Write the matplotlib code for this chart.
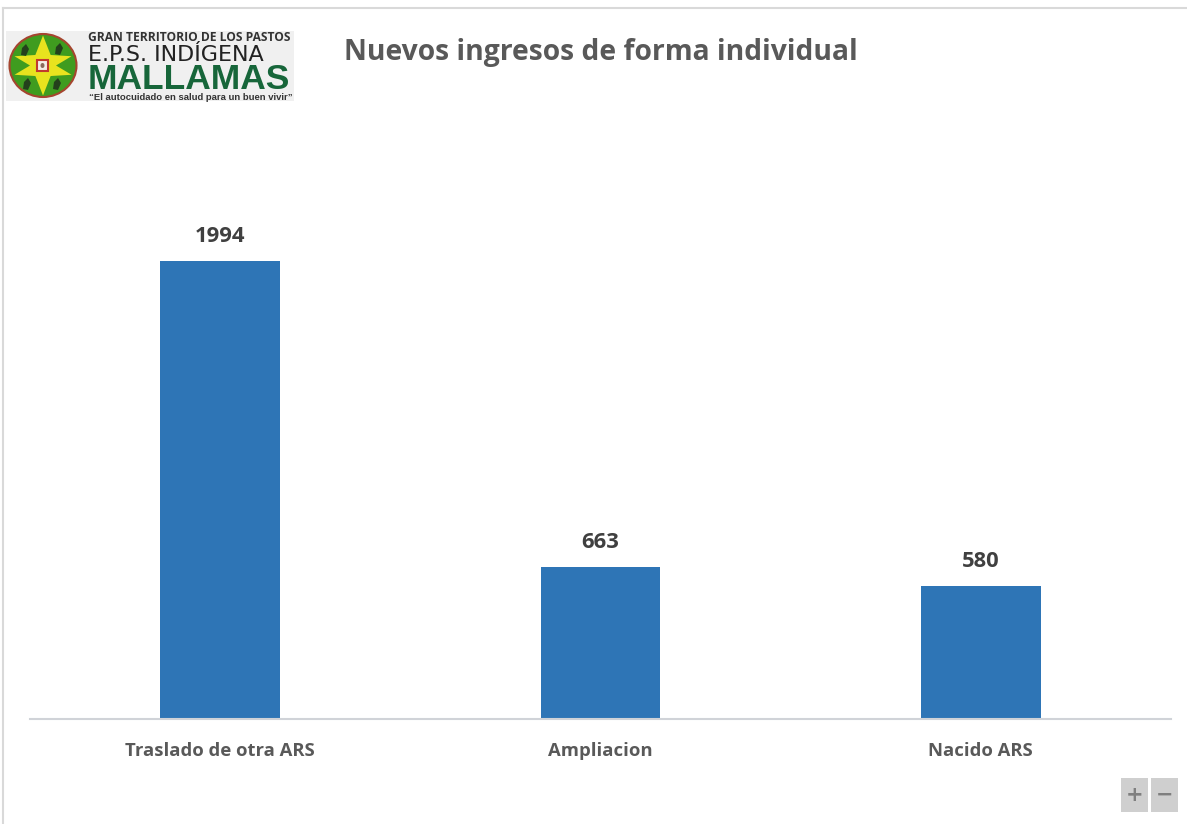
"""Bar chart of new individual enrolments with the EPS logo header."""

import matplotlib

matplotlib.use("Agg")
import matplotlib.pyplot as plt
from matplotlib.patches import Ellipse, Polygon, Rectangle
import numpy as np

categories = ["Traslado de otra ARS", "Ampliacion", "Nacido ARS"]
values = [1994, 663, 580]

title = "Nuevos ingresos de forma individual"
logo_lines = ["GRAN TERRITORIO DE LOS PASTOS", "E.P.S. INDÍGENA", "MALLAMAS"]
logo_slogan = "\u201cEl autocuidado en salud para un buen vivir\u201d"

WIDTH, HEIGHT = 1187, 824
FONT = "Open Sans"
TEXT_DARK = "#404040"
TEXT_GREY = "#595959"
BAR_BLUE = "#2e75b6"

fig = plt.figure(figsize=(WIDTH / 100, HEIGHT / 100), dpi=100, facecolor="white")

# Chart axes, placed in pixels: baseline at y=719, spanning x=30..1171
ax = fig.add_axes([30 / WIDTH, (HEIGHT - 719) / HEIGHT, 1141 / WIDTH, 599 / HEIGHT])
x = np.arange(len(categories))
bars = ax.bar(x, values, width=0.315, color=BAR_BLUE)
ax.bar_label(
    bars, padding=10, fontsize=15.8, fontweight="bold", color=TEXT_DARK, family=FONT
)
ax.set_xlim(-0.5, 2.5)
ax.set_ylim(0, 2608)
ax.set_xticks(x, categories, fontsize=13.3, fontweight="bold", color=TEXT_GREY, family=FONT)
ax.tick_params(axis="x", length=0, pad=16.5)
ax.set_yticks([])
for side in ["top", "left", "right"]:
    ax.spines[side].set_visible(False)
ax.spines["bottom"].set_color("#d0d3d8")
ax.spines["bottom"].set_linewidth(1.5)

# Overlay in pixel coordinates for the frame, logo and zoom buttons
over = fig.add_axes([0, 0, 1, 1], facecolor="none")
over.set_xlim(0, WIDTH)
over.set_ylim(HEIGHT, 0)
over.axis("off")

over.plot([3, WIDTH], [8, 8], color="#d9d9d9", linewidth=1.5)
over.plot([3, 3], [8, HEIGHT], color="#d9d9d9", linewidth=1.5)

over.text(344, 52, title, fontsize=20.3, fontweight="bold", color=TEXT_GREY,
          family=FONT, va="center", ha="left")

# Logo: emblem is a six-point star on a green disc
over.add_patch(Rectangle((6, 31), 288, 70, facecolor="#f0f0f0", edgecolor="none"))
over.add_patch(Ellipse((43, 65.5), 67, 63, facecolor="#3f9c1f", edgecolor="#a5452f", linewidth=1.5))
angles = np.deg2rad([-90, -54, -18, 0, 18, 54, 90, 126, 162, 180, 198, 234])
radii = np.array([30, 13, 30, 13, 30, 13, 30, 13, 30, 13, 30, 13])
over.add_patch(Polygon(
    np.column_stack([43 + radii * np.cos(angles), 65.5 + radii * np.sin(angles)]),
    facecolor="#e8e31e", edgecolor="none",
))
# Dark silhouettes in the four green sectors
for cx, cy in [(25, 50), (59, 49), (27, 84), (57, 84)]:
    over.add_patch(Polygon(
        [(cx - 4, cy + 5), (cx - 3, cy - 2), (cx + 1, cy - 6), (cx + 4, cy - 1), (cx + 1, cy + 6)],
        facecolor="#24401c", edgecolor="none",
    ))
over.add_patch(Rectangle((37, 60), 11, 11, facecolor="#f3ece6", edgecolor="#c0392f", linewidth=1.5))
over.add_patch(Ellipse((42.5, 65.5), 4, 5, facecolor="#8a6a5c", edgecolor="none"))

over.text(88, 41, logo_lines[0], fontsize=8.65, fontweight="bold", color="#333333",
          family="Open Sans", va="baseline", ha="left")
over.text(88, 60.5, logo_lines[1], fontsize=16, color="#222222",
          family="DejaVu Sans", va="baseline", ha="left")
over.text(87.5, 89, logo_lines[2], fontsize=25.5, fontweight="bold", color="#17663a",
          family="Liberation Sans", va="baseline", ha="left")
over.text(89, 99.5, logo_slogan, fontsize=6.8, fontweight="bold", color="#333333",
          family="Liberation Sans", va="baseline", ha="left")

# Zoom buttons, bottom right
for left, label in [(1121, "+"), (1151, "\u2212")]:
    over.add_patch(Rectangle((left, 778), 27, 34, facecolor="#cfcfcf", edgecolor="none"))
    over.text(left + 13.5, 795, label, fontsize=15, fontweight="bold", color="#7f7f7f",
              family="DejaVu Sans", va="center", ha="center")

fig.savefig("out.png", dpi=100)
plt.close(fig)
